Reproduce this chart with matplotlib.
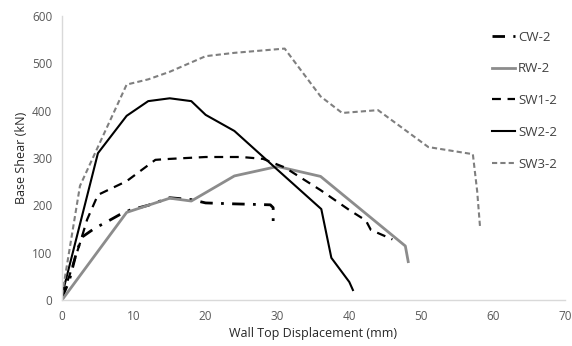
import numpy as np
import matplotlib.pyplot as plt

plt.rcParams['font.family'] = ['Open Sans', 'DejaVu Sans']

# displacement (mm) / base shear (kN) for each wall
cw2_x = [0, 1, 2, 2.8, 4.6, 6, 8, 9.5, 12, 15, 18, 20, 24, 29, 29.4, 29.4]
cw2_y = [5, 40, 100, 133, 152, 163, 180, 190, 200, 216, 212, 205, 203, 201, 195, 152]

rw2_x = [0, 9, 15, 18, 24, 30, 36, 47.8, 48.2]
rw2_y = [0, 185, 215, 209, 262, 282, 261, 114, 81]

sw12_x = [0, 1, 2.5, 3.5, 5, 9, 13, 15, 20, 25, 28, 31, 36, 40, 42.3, 43, 46]
sw12_y = [10, 50, 120, 170, 222, 251, 296, 298, 302, 302, 298, 280, 232, 190, 168, 148, 128]

sw22_x = [0, 5, 9, 12, 15, 18, 20, 24, 30, 36.1, 37.5, 40.0, 40.5]
sw22_y = [10, 310, 389, 420, 426, 420, 391, 357, 275, 192, 89, 38, 21]

sw32_x = [0, 2.5, 9, 12, 15, 20, 24, 31, 36, 39, 44, 51, 57.2, 57.8, 58.2]
sw32_y = [10, 241, 455, 466, 482, 515, 522, 531, 430, 395, 401, 323, 308, 230, 154]

fig = plt.figure(figsize=(5.72, 3.46), dpi=100)
ax = fig.add_axes([0.1084, 0.133, 0.879, 0.821])

ax.plot(cw2_x, cw2_y, color='black', lw=2, dashes=(4.5, 3, 1, 3), label='CW-2')
ax.plot(rw2_x, rw2_y, color='#8c8c8c', lw=2, label='RW-2')
ax.plot(sw12_x, sw12_y, color='black', lw=1.6, dashes=(4, 3), label='SW1-2')
ax.plot(sw22_x, sw22_y, color='black', lw=1.5, label='SW2-2')
ax.plot(sw32_x, sw32_y, color='#7f7f7f', lw=1.5, dashes=(2.5, 1.5), label='SW3-2')

ax.set_xlim(0, 70)
ax.set_ylim(0, 600)
ax.set_xticks(np.arange(0, 71, 10))
ax.set_yticks(np.arange(0, 601, 100))
ax.tick_params(length=0, labelsize=8.5, labelcolor='#595959', pad=7)
for s in ['top', 'right']:
    ax.spines[s].set_visible(False)
for s in ['left', 'bottom']:
    ax.spines[s].set_color('#d9d9d9')
    ax.spines[s].set_linewidth(1)

ax.set_xlabel('Wall Top Displacement (mm)', fontsize=9, color='#262626', labelpad=3)
ax.set_ylabel('Base Shear (kN)', fontsize=9, color='#262626', labelpad=3)

leg = ax.legend(loc='upper left', bbox_to_anchor=(0.832, 0.99), frameon=False,
                fontsize=9.5, handlelength=1.7, handletextpad=0.25, labelspacing=1.42,
                labelcolor='#404040')

fig.savefig('out.png', dpi=100)
